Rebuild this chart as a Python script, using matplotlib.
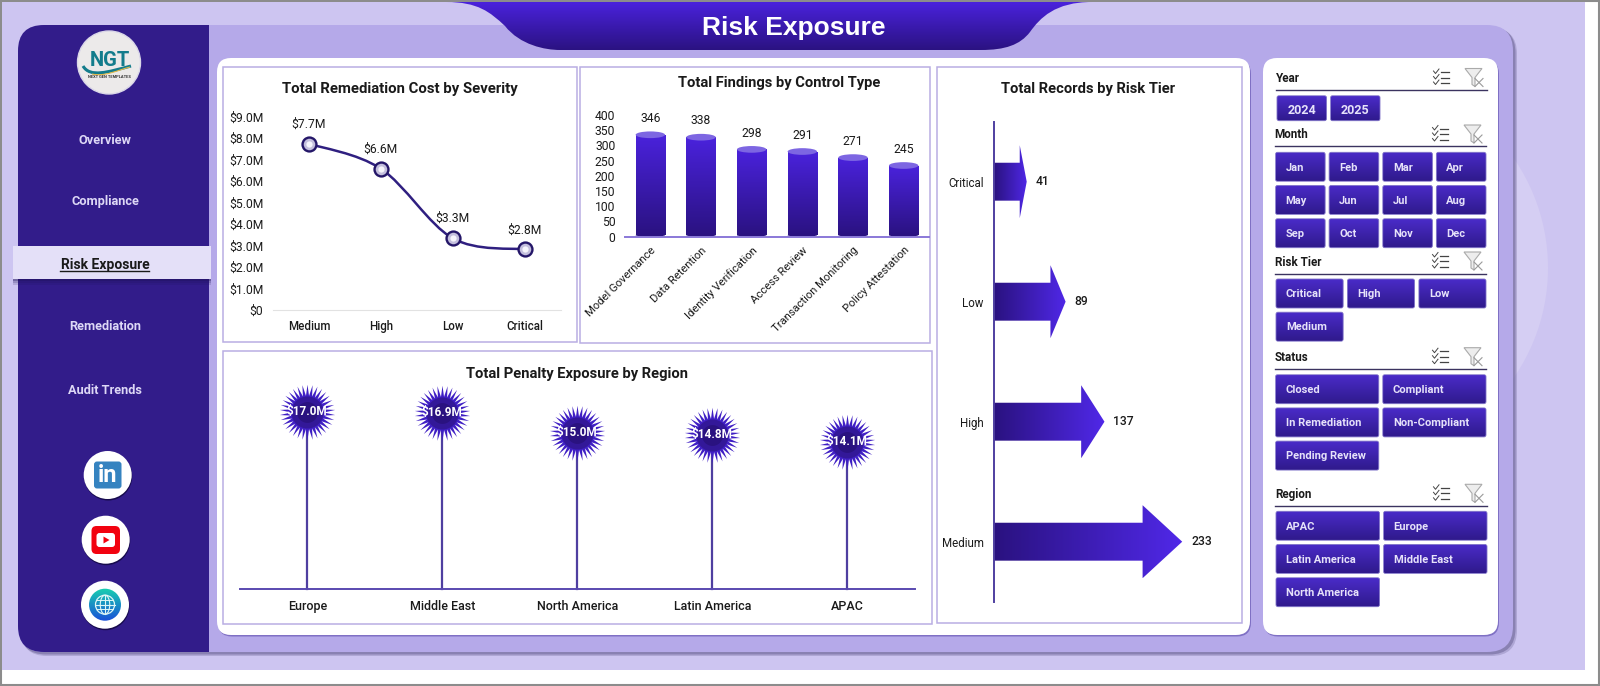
#!/usr/bin/env python3
# -*- coding: utf-8 -*-
"""
Risk Exposure dashboard page, redrawn with matplotlib.
Layout numbers are in pixels of the 1600x686 picture, y going down.
"""

import numpy as np
import matplotlib
matplotlib.use('Agg')
import matplotlib.pyplot as plt
from matplotlib.colors import to_rgb
from matplotlib.patches import FancyBboxPatch, Rectangle, Circle, Ellipse, PathPatch, Polygon
from matplotlib.path import Path

plt.rcParams['font.family'] = ['Roboto', 'DejaVu Sans']

W, H = 1600, 686

### data
severity = ['Medium', 'High', 'Low', 'Critical']
cost_m = [7.74, 6.58, 3.34, 2.82]
cost_ticks = [0, 1, 2, 3, 4, 5, 6, 7, 8, 9]

control_types = ['Model Governance', 'Data Retention', 'Identity Verification',
                 'Access Review', 'Transaction Monitoring', 'Policy Attestation']
findings = [346, 338, 298, 291, 271, 245]
findings_ticks = [0, 50, 100, 150, 200, 250, 300, 350, 400]

tiers = ['Critical', 'Low', 'High', 'Medium']
records = [41, 89, 137, 233]

regions = ['Europe', 'Middle East', 'North America', 'Latin America', 'APAC']
penalty_m = [17.0, 16.9, 15.0, 14.8, 14.1]

nav_items = ['Overview', 'Compliance', 'Risk Exposure', 'Remediation', 'Audit Trends']
year_items = ['2024', '2025']
month_items = ['Jan', 'Feb', 'Mar', 'Apr', 'May', 'Jun', 'Jul', 'Aug', 'Sep', 'Oct', 'Nov', 'Dec']
tier_items = ['Critical', 'High', 'Low', 'Medium']
status_items = ['Closed', 'Compliant', 'In Remediation', 'Non-Compliant', 'Pending Review']
region_items = ['APAC', 'Europe', 'Latin America', 'Middle East', 'North America']

### colours
BG = '#CDC5F1'
PANEL = '#B5A9E9'
SIDE = '#321C8A'
G_LIGHT = '#4A22DC'
G_DARK = '#2A1280'
BORDER = '#B9AEE3'
INK = '#1A1A1A'


def round_box(ax, x0, y0, x1, y1, r, **kw):
    p = FancyBboxPatch((x0, y0), x1 - x0, y1 - y0,
                       boxstyle='round,pad=0,rounding_size=%g' % r, **kw)
    ax.add_patch(p)
    return p


def gradient(ax, patch, c0, c1, extent, horizontal=False, zorder=2):
    # c0 is the colour of the first row (or column) of the extent
    t = np.linspace(0, 1, 64)[:, None]
    arr = (1 - t) * np.array(to_rgb(c0)) + t * np.array(to_rgb(c1))
    arr = arr[None, :, :] if horizontal else arr[:, None, :]
    im = ax.imshow(arr, extent=extent, aspect='auto', zorder=zorder, interpolation='bilinear')
    im.set_clip_path(patch)
    return im


def px_axes(left, top, right, bottom):
    a = fig.add_axes([left / W, 1 - bottom / H, (right - left) / W, (bottom - top) / H])
    a.patch.set_alpha(0)
    for s in a.spines.values():
        s.set_visible(False)
    a.tick_params(length=0)
    return a


fig = plt.figure(figsize=(W / 100, H / 100), dpi=100, facecolor='white')
bg = fig.add_axes([0, 0, 1, 1])
bg.set_xlim(0, W)
bg.set_ylim(H, 0)
bg.axis('off')

# page frame and background
bg.add_patch(Rectangle((0.5, 0.5), W - 2, H - 1.5, fc='white', ec='#8C8C8C', lw=1.5, zorder=0))
bg.add_patch(Rectangle((2, 2), 1583, 668, fc=BG, ec='none', zorder=0.1))
bg.add_patch(Circle((1355, 268), 193, fc='#D5CEF3', ec='none', zorder=0.2))

# main panel
round_box(bg, 21, 28, 1517, 656, 26, fc='#6B6296', ec='none', alpha=0.3, zorder=0.3)
round_box(bg, 20, 27, 1515.5, 654.5, 26, fc='#6B6296', ec='none', alpha=0.55, zorder=0.31)
round_box(bg, 18, 25, 1513, 652, 26, fc=PANEL, ec='none', zorder=0.4)

# sidebar
side = round_box(bg, 18, 25, 280, 652, 26, fc=SIDE, ec='none', zorder=0.5)
side.set_clip_path(Rectangle((0, 0), 209, H, transform=bg.transData))

# white cards
for x0, x1 in [(217, 1250), (1263, 1498)]:
    round_box(bg, x0 + 1, 60, x1 + 1, 636.5, 14, fc='#7F70C4', ec='none', zorder=0.6)
    round_box(bg, x0, 58, x1, 635, 14, fc='white', ec='none', zorder=0.7)
for x0, y0, x1, y1 in [(223, 67, 577, 342), (580, 67, 930, 343),
                       (937, 67, 1242, 623), (223, 351, 932, 624)]:
    bg.add_patch(Rectangle((x0, y0), x1 - x0, y1 - y0, fc='white', ec=BORDER, lw=1.1, zorder=0.8))

# banner
v = [(446, 2), (478, 2), (490, 12), (505, 26), (520, 45), (545, 50), (560, 50),
     (981, 50), (1005, 50), (1020, 45), (1030, 32), (1040, 18), (1055, 2), (1092, 2), (446, 2)]
c = [Path.MOVETO, Path.CURVE4, Path.CURVE4, Path.CURVE4, Path.CURVE4, Path.CURVE4, Path.CURVE4,
     Path.LINETO, Path.CURVE4, Path.CURVE4, Path.CURVE4, Path.CURVE4, Path.CURVE4, Path.CURVE4,
     Path.CLOSEPOLY]
banner = PathPatch(Path(v, c), fc='none', ec='none', zorder=1)
bg.add_patch(banner)
gradient(bg, banner, G_LIGHT, G_DARK, (440, 1100, 51, 2), zorder=1)
bg.text(793.5, 28, 'Risk Exposure', color='white', fontsize=19, fontweight='bold',
        family='Liberation Sans', ha='center', va='center', zorder=3)

# navigation
nav_y = [140, 202, 265, 327, 390]
bg.add_patch(Rectangle((13, 246), 198, 33, fc='#E4E0F8', ec='none', zorder=1))
for y0, a in [(279, 0.5), (281, 0.3), (283, 0.15)]:
    bg.add_patch(Rectangle((13, y0), 198, 2, fc='#1B0F55', ec='none', alpha=a, zorder=1))
for name, y in zip(nav_items, nav_y):
    active = name == 'Risk Exposure'
    bg.text(105, y, name, color=INK if active else '#DDD8F6', fontsize=10 if active else 9.2,
            fontweight='bold', ha='center', va='center', zorder=2)
bg.plot([60, 149], [270.5, 270.5], color=INK, lw=1, zorder=2)

# logo
bg.add_patch(Circle((109, 62.5), 31.5, fc='#ECEAEA', ec='#DAD7E8', lw=1, zorder=1))
bg.text(110, 61, 'NGT', color='#137C8C', fontsize=14.5, fontweight='bold', ha='center', va='center', zorder=2)
swoosh = Path([(83, 66), (90, 78), (108, 72), (131, 66)], [Path.MOVETO, Path.CURVE4, Path.CURVE4, Path.CURVE4])
bg.add_patch(PathPatch(swoosh, fc='none', ec='#137C8C', lw=2.2, zorder=2))
swoosh2 = Path([(92, 74), (105, 77), (118, 70), (130, 67)], [Path.MOVETO, Path.CURVE4, Path.CURVE4, Path.CURVE4])
bg.add_patch(PathPatch(swoosh2, fc='none', ec='#E3B94A', lw=0.8, zorder=2))
bg.text(109, 77.5, 'NEXT GEN TEMPLATES', color='#333333', fontsize=2.9, fontweight='bold', ha='center', va='center', zorder=2)

# social icons
for cx, cy in [(107.7, 475), (105.7, 539.7), (105, 604.7)]:
    bg.add_patch(Circle((cx + 0.5, cy + 1.5), 24, fc='#170B4D', ec='none', zorder=1))
    bg.add_patch(Circle((cx, cy), 24, fc='white', ec='none', zorder=1.1))
round_box(bg, 94, 461.5, 121.5, 488.5, 3, fc='#3583C0', ec='none', zorder=2)
bg.text(107.8, 476, 'in', color='white', fontsize=17, fontweight='bold', ha='center', va='center', zorder=3)
round_box(bg, 91.5, 526, 120, 554, 5, fc='#F2020F', ec='none', zorder=2)
round_box(bg, 96.5, 533, 115, 547, 3, fc='white', ec='none', zorder=3)
bg.add_patch(Polygon([(103.5, 536.5), (103.5, 543.5), (109.5, 540)], fc='#F2020F', ec='none', zorder=4))
globe = Circle((105, 604.7), 16, fc='none', ec='none', zorder=2)
bg.add_patch(globe)
gradient(bg, globe, '#18D0B0', '#1A50D8', (89, 121, 621, 588), zorder=2)
bg.add_patch(Circle((105, 604.7), 9.5, fc='none', ec='#DDF6F6', lw=0.9, zorder=3))
bg.add_patch(Ellipse((105, 604.7), 9.5, 19, fc='none', ec='#DDF6F6', lw=0.8, zorder=3))
bg.plot([105, 105], [595.2, 614.2], color='#DDF6F6', lw=0.8, zorder=3)
bg.plot([95.5, 114.5], [604.7, 604.7], color='#DDF6F6', lw=0.8, zorder=3)
bg.plot([97, 113], [600, 600], color='#DDF6F6', lw=0.7, zorder=3)
bg.plot([97, 113], [609.4, 609.4], color='#DDF6F6', lw=0.7, zorder=3)


### slicers
def slicer(title, items, x0, x1, y_head, y_line, y_btn, ncols, gap_x, btn_h, gap_y):
    bg.text(x0, y_head + 1, title, color=INK, fontsize=8.4, fontweight='bold', ha='left', va='center', zorder=2)
    bg.plot([x0, x1], [y_line, y_line], color='#3B3360', lw=1, zorder=2)
    # checklist icon
    ix = x1 - 47
    for k in range(3):
        yy = y_head + (k - 1) * 5.5
        bg.plot([ix - 6.5, ix - 4.5, ix - 1], [yy - 1, yy + 1.5, yy - 3], color='#444444', lw=0.7, zorder=2)
        bg.plot([ix + 1, ix + 9], [yy, yy], color='#444444', lw=0.9, zorder=2)
    # clear filter icon
    fx = x1 - 13
    bg.add_patch(Polygon([(fx - 9, y_head - 9), (fx + 8, y_head - 9), (fx + 1, y_head),
                          (fx + 1, y_head + 9), (fx - 2, y_head + 7), (fx - 2, y_head)],
                         fc='#EDEDED', ec='#AAAAAA', lw=0.8, zorder=2))
    bg.plot([fx + 1, fx + 9], [y_head + 1, y_head + 9], color='#9A9A9A', lw=0.8, zorder=3)
    bg.plot([fx + 9, fx + 1], [y_head + 1, y_head + 9], color='#9A9A9A', lw=0.8, zorder=3)
    # buttons
    bx0 = x0 + 1
    btn_w = (x1 - bx0 - (ncols - 1) * gap_x) / ncols
    for i, item in enumerate(items):
        col, row = i % ncols, i // ncols
        left = bx0 + col * (btn_w + gap_x)
        top = y_btn + row * (btn_h + gap_y)
        b = round_box(bg, left, top, left + btn_w, top + btn_h, 2, fc='none', ec='#7F72C8', lw=0.6, zorder=3)
        gradient(bg, b, '#4A2BC8', '#2F1A8C', (left, left + btn_w, top + btn_h, top), zorder=2)
        if title == 'Year':
            bg.text(left + btn_w / 2, top + btn_h / 2 + 2, item, color='#E6E2FA', fontsize=9, fontweight='bold',
                    ha='center', va='center', zorder=4)
        else:
            bg.text(left + 10, top + btn_h / 2 + 0.8, item, color='#E6E2FA', fontsize=8, fontweight='bold',
                    ha='left', va='center', zorder=4)


slicer('Year', year_items, 1276, 1487, 77.5, 90.3, 95.7, 4, 4, 25, 4)
slicer('Month', month_items, 1274.5, 1486, 134, 146.3, 152.3, 4, 4, 29, 4.2)
slicer('Risk Tier', tier_items, 1275, 1486, 261, 274, 279, 3, 4.3, 29, 4.2)
slicer('Status', status_items, 1274.5, 1486, 356.7, 369.3, 374.7, 2, 4, 29, 4.2)
slicer('Region', region_items, 1275, 1487, 493.3, 506, 511.3, 2, 4, 29, 4.2)

### chart 1: smooth line
bg.text(400, 89.5, 'Total Remediation Cost by Severity', color=INK, fontsize=10.7, fontweight='bold',
        ha='center', va='center', zorder=3)
ax1 = px_axes(273, 116.7, 560.5, 310)
ax1.set_xlim(-0.5, 3.5)
ax1.set_ylim(0, 9)
xs = np.arange(len(cost_m), dtype=float)
pts = np.column_stack([xs, cost_m])
verts = [pts[0]]
codes = [Path.MOVETO]
for i in range(len(pts) - 1):
    p0 = pts[max(i - 1, 0)]
    p3 = pts[min(i + 2, len(pts) - 1)]
    verts += [pts[i] + (pts[i + 1] - p0) / 6, pts[i + 1] - (p3 - pts[i]) / 6, pts[i + 1]]
    codes += [Path.CURVE4] * 3
ax1.add_patch(PathPatch(Path(verts, codes), fc='none', ec='#2F1F80', lw=1.8, zorder=2))
ax1.plot(xs, cost_m, ls='none', marker='o', ms=10, mfc='#C4BFDD', mec='#241668', mew=1.7, zorder=3)
ax1.plot(xs, cost_m, ls='none', marker='o', ms=4.5, mfc='#F6F5FC', mec='none', zorder=4)
for x, val in zip(xs, cost_m):
    ax1.annotate('$%.1fM' % val, (x, val), xytext=(0, 13), textcoords='offset pixels', ha='center', va='bottom',
                 fontsize=8.7, color=INK)
ax1.set_xticks(xs, severity, fontsize=8.3, fontweight='medium', color=INK)
ax1.set_yticks(cost_ticks, ['$0' if t == 0 else '$%.1fM' % t for t in cost_ticks], fontsize=8.7, color=INK)
ax1.tick_params(axis='x', pad=7)
ax1.tick_params(axis='y', pad=7)
ax1.spines['bottom'].set_visible(True)
ax1.spines['bottom'].set_color('#E2E2E2')

### chart 2: cylinder columns
bg.text(779, 83, 'Total Findings by Control Type', color=INK, fontsize=10.6, fontweight='bold',
        ha='center', va='center', zorder=3)
ax2 = px_axes(625, 115, 929, 236.7)
ax2.set_xlim(-0.5, 5.5)
ax2.set_ylim(0, 400)
bar_w = 0.58
cap = 11
for i, val in enumerate(findings):
    body = Rectangle((i - bar_w / 2, 5), bar_w, val - cap - 5, fc='none', ec='none', zorder=2)
    ax2.add_patch(body)
    gradient(ax2, body, G_LIGHT, G_DARK, (i - bar_w / 2, i + bar_w / 2, 0, val - cap), zorder=2)
    ax2.add_patch(Ellipse((i, 5), bar_w, 10, fc=G_DARK, ec='none', zorder=2))
    ax2.add_patch(Ellipse((i, val - cap), bar_w, 2 * cap, fc='#7D66E2', ec='none', zorder=3))
    ax2.annotate(str(val), (i, val), xytext=(0, 13), textcoords='offset pixels', ha='center', va='center',
                 fontsize=8.7, color=INK)
ax2.set_xticks(range(len(control_types)))
ax2.set_xticklabels(control_types, rotation=45, ha='right', va='top', rotation_mode='anchor',
                    fontsize=8.1, color=INK)
ax2.set_yticks(findings_ticks)
ax2.tick_params(axis='y', labelsize=8.7, labelcolor=INK, pad=7)
ax2.tick_params(axis='x', pad=6)
ax2.spines['bottom'].set_visible(True)
ax2.spines['bottom'].set_color('#8A78D8')
ax2.spines['bottom'].set_linewidth(1.4)

### chart 3: arrow bars
bg.text(1088.5, 88.7, 'Total Records by Risk Tier', color=INK, fontsize=10.6, fontweight='bold',
        ha='center', va='center', zorder=3)
ax3 = px_axes(993.5, 121.7, 1236.5, 601.7)
ax3.set_xlim(0, 300)
ax3.set_ylim(3.5, -0.5)
shaft = 0.158
head = 0.304
for i, val in enumerate(records):
    neck = val * 0.79
    arrow = Polygon([(0, i - shaft), (neck, i - shaft), (neck, i - head), (val, i),
                     (neck, i + head), (neck, i + shaft), (0, i + shaft)],
                    fc='none', ec='none', zorder=2)
    ax3.add_patch(arrow)
    gradient(ax3, arrow, G_DARK, '#5028E8', (0, val, i + head, i - head), horizontal=True, zorder=2)
    ax3.annotate(str(val), (val, i), xytext=(9, 0), textcoords='offset pixels', ha='left', va='center',
                 fontsize=8.7, fontweight='medium', color=INK)
ax3.set_yticks(range(len(tiers)), tiers, fontsize=8.3, color=INK)
ax3.set_xticks([])
ax3.tick_params(axis='y', pad=7)
ax3.spines['left'].set_visible(True)
ax3.spines['left'].set_color('#4F3FA0')
ax3.spines['left'].set_linewidth(1.4)

### chart 4: lollipops
bg.text(577, 374, 'Total Penalty Exposure by Region', color=INK, fontsize=10.6, fontweight='bold',
        ha='center', va='center', zorder=3)
ax4 = px_axes(239.8, 380.4, 914.8, 589)
ax4.set_xlim(-0.5, 4.5)
ax4.set_ylim(0, 20)
star = Path.unit_regular_star(34, innerCircle=0.6)
for i, val in enumerate(penalty_m):
    ax4.plot([i, i], [0, val], color='#4F3FA0', lw=1.6, zorder=2, clip_on=False)
    ax4.plot(i, val, marker=star, ms=40, mfc='#3F1FC4', mec='none', zorder=3, clip_on=False)
    ax4.plot(i, val, marker='o', ms=23, mfc='#331899', mec='none', zorder=4, clip_on=False)
    ax4.plot(i, val, marker='o', ms=15, mfc=G_DARK, mec='none', zorder=4.1, clip_on=False)
    ax4.annotate('$%.1fM' % val, (i, val), ha='center', va='center', fontsize=8.5, fontweight='bold',
                 color='white', zorder=5, annotation_clip=False)
ax4.set_xticks(range(len(regions)), regions, fontsize=9, fontweight='medium', color=INK)
ax4.set_yticks([])
ax4.tick_params(axis='x', pad=8)
ax4.spines['bottom'].set_visible(True)
ax4.spines['bottom'].set_color('#5A4AB0')
ax4.spines['bottom'].set_linewidth(1.4)

fig.savefig('out.png', dpi=100)
